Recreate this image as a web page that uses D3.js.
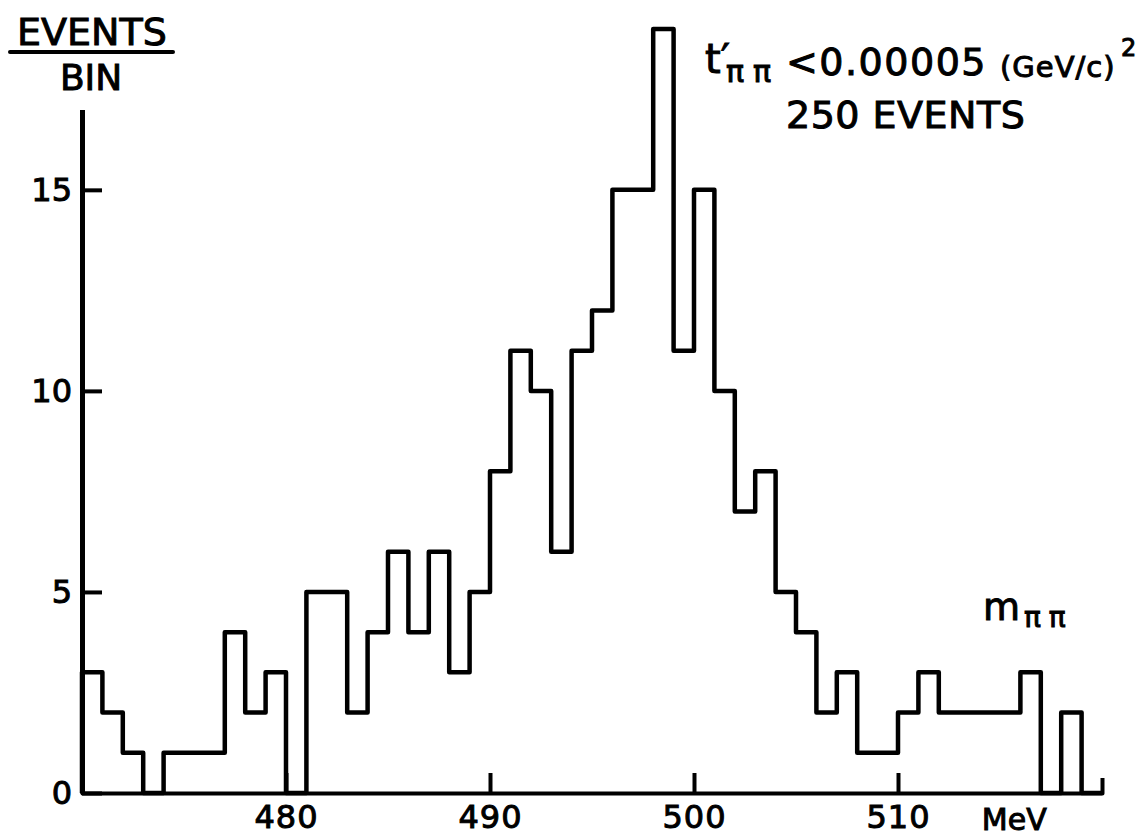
<!DOCTYPE html>
<html>
<head>
<meta charset="utf-8">
<script src="https://cdn.jsdelivr.net/npm/d3@7"></script>
<style>
  html, body { margin: 0; padding: 0; background: #fff; }
  svg { display: block; }
  text { font-family: "DejaVu Sans", sans-serif; fill: #000; stroke: #000; stroke-width: 1; }
</style>
</head>
<body>
<svg id="chart" width="1146" height="837"></svg>
<script>
// lower edge of each 1 MeV bin
const binLow = [470, 471, 472, 473, 474, 475, 476, 477, 478, 479,
                480, 481, 482, 483, 484, 485, 486, 487, 488, 489,
                490, 491, 492, 493, 494, 495, 496, 497, 498, 499,
                500, 501, 502, 503, 504, 505, 506, 507, 508, 509,
                510, 511, 512, 513, 514, 515, 516, 517, 518, 519];
// events per bin (250 total)
const counts = [3, 2, 1, 0, 1, 1, 1, 4, 2, 3,
                0, 5, 5, 2, 4, 6, 4, 6, 3, 5,
                8, 11, 10, 6, 11, 12, 15, 15, 19, 11,
                15, 10, 7, 8, 5, 4, 2, 3, 1, 1,
                2, 3, 2, 2, 2, 2, 3, 0, 2, 0];
const xTicks = [480, 490, 500, 510];
const yTicks = [0, 5, 10, 15];
const xDomain = [470, 520];
const yDomain = [0, 19];
const yAxisTop = 17;

const width = 1146, height = 837;
const margin = {top: 29, right: 44, bottom: 44, left: 82};

const svg = d3.select("#chart");

const x = d3.scaleLinear()
    .domain(xDomain)
    .range([margin.left, width - margin.right]);

const y = d3.scaleLinear()
    .domain(yDomain)
    .range([height - margin.bottom, margin.top]);

// histogram outline as one step line
const pts = [{m: xDomain[0], n: 0}]
  .concat(binLow.map((m, i) => ({m, n: counts[i]})))
  .concat([{m: xDomain[1], n: 0}]);

const line = d3.line()
    .x(d => x(d.m))
    .y(d => y(d.n))
    .curve(d3.curveStepAfter);

svg.append("path")
    .datum(pts)
    .attr("fill", "none")
    .attr("stroke", "#000")
    .attr("stroke-width", 4.5)
    .attr("stroke-linejoin", "round")
    .attr("d", line);

// x axis, ticks point up into the plot
const xAxis = d3.axisBottom(x)
    .tickValues(xTicks)
    .tickSizeInner(-20)
    .tickSizeOuter(-15)
    .tickPadding(12);

const gx = svg.append("g")
    .attr("transform", `translate(0,${y(0)})`)
    .call(xAxis);
gx.select(".domain").attr("stroke-width", 4).attr("stroke-linejoin", "round");
gx.selectAll(".tick line").attr("stroke-width", 4);
gx.selectAll(".tick text")
    .attr("font-size", 32)
    .attr("font-family", "DejaVu Sans")
    .attr("letter-spacing", 1);

// y axis stops below the top of the peak
const yAxisScale = d3.scaleLinear()
    .domain([0, yAxisTop])
    .range([y(0), y(yAxisTop)]);

const yAxis = d3.axisLeft(yAxisScale)
    .tickValues(yTicks)
    .tickSizeInner(-20)
    .tickSizeOuter(0)
    .tickPadding(10);

const gy = svg.append("g")
    .attr("transform", `translate(${x(xDomain[0])},0)`)
    .call(yAxis);
gy.select(".domain").attr("stroke-width", 5);
gy.selectAll(".tick line").attr("stroke-width", 4);
gy.selectAll(".tick text")
    .attr("font-size", 32)
    .attr("font-family", "DejaVu Sans");

// y label: EVENTS / BIN
svg.append("text")
    .attr("x", 92).attr("y", 45)
    .attr("text-anchor", "middle")
    .attr("font-size", 38)
    .text("EVENTS");
svg.append("line")
    .attr("x1", 10).attr("x2", 173)
    .attr("y1", 52).attr("y2", 52)
    .attr("stroke", "#000")
    .attr("stroke-width", 4)
    .attr("stroke-linecap", "round");
svg.append("text")
    .attr("x", 91).attr("y", 90)
    .attr("text-anchor", "middle")
    .attr("font-size", 36)
    .text("BIN");

// annotation
const note = svg.append("g");
note.append("text").attr("x", 705).attr("y", 73).attr("font-size", 40).text("t′");
note.append("text").attr("x", 726).attr("y", 82).attr("font-size", 30)
    .attr("letter-spacing", 9).text("ππ");
note.append("text").attr("x", 786).attr("y", 75).attr("font-size", 38)
    .attr("letter-spacing", 1.5).text("<0.00005");
note.append("text").attr("x", 1000).attr("y", 77).attr("font-size", 29)
    .attr("letter-spacing", 1).text("(GeV/c)");
note.append("text").attr("x", 1121).attr("y", 56).attr("font-size", 24).text("2");
note.append("text").attr("x", 786).attr("y", 128).attr("font-size", 38)
    .attr("letter-spacing", 0.5)
    .text("250 EVENTS");

// x label
svg.append("text").attr("x", 983).attr("y", 620).attr("font-size", 38).text("m");
svg.append("text").attr("x", 1024).attr("y", 627).attr("font-size", 28)
    .attr("letter-spacing", 8).text("ππ");
svg.append("text")
    .attr("x", x(515.7)).attr("y", 830)
    .attr("text-anchor", "middle")
    .attr("font-size", 30)
    .text("MeV");
</script>
</body>
</html>
